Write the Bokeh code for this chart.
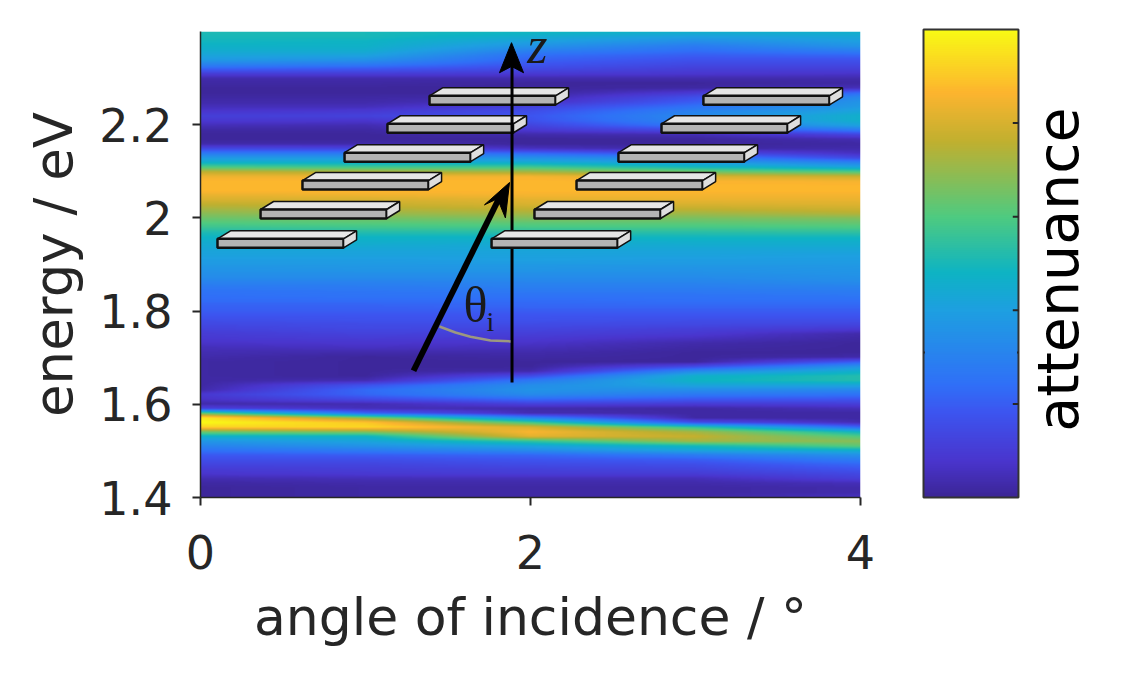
import numpy as np
from bokeh.core.properties import value
from bokeh.embed import file_html
from bokeh.layouts import column, row
from bokeh.models import FixedTicker, LinearColorMapper, Range1d
from bokeh.plotting import figure
from bokeh.resources import INLINE

# energy rows, 1.40 to 2.40 eV in steps of 0.01 per angle
energy = [round(1.40 + i * 0.01, 2) for i in range(101)]
angles = [0, 1, 2, 3, 4]

att_0 = [.01, .01, .01, .02, .04, .08, .10, .13, .16, .19,
         .25, .31, .37, .46, .65, .92, 1.0, .96, .62, .12,
         .03, .07, .09, .03, .02, .02, .02, .02, .02, .02,
         .03, .04, .05, .07, .09, .10, .12, .14, .16, .18,
         .20, .21, .23, .24, .25, .27, .30, .33, .35, .36,
         .38, .39, .41, .42, .44, .45, .48, .51, .56, .60,
         .64, .68, .72, .76, .80, .83, .87, .87, .87, .84,
         .76, .60, .47, .38, .27, .14, .03, .01, .01, .02,
         .05, .09, .11, .08, .05, .03, .02, .01, .01, .02,
         .03, .10, .20, .30, .38, .42, .45, .47, .49, .50, .51]
att_1 = [.02, .02, .02, .03, .05, .09, .11, .13, .16, .20,
         .28, .36, .42, .47, .68, .93, .90, .68, .22, .05,
         .04, .15, .22, .23, .17, .04, .01, .01, .01, .01,
         .01, .03, .06, .08, .10, .12, .14, .15, .17, .18,
         .20, .21, .23, .25, .26, .28, .30, .33, .35, .37,
         .38, .39, .41, .42, .44, .46, .48, .52, .57, .61,
         .65, .70, .74, .77, .80, .84, .87, .87, .87, .84,
         .74, .58, .46, .38, .27, .13, .03, .01, .01, .02,
         .04, .08, .12, .09, .05, .03, .02, .01, .01, .02,
         .03, .10, .18, .27, .35, .41, .45, .47, .48, .50, .50]
att_2 = [.02, .02, .02, .03, .05, .10, .12, .15, .18, .22,
         .33, .42, .55, .82, .86, .80, .58, .30, .04, .03,
         .12, .23, .33, .36, .34, .27, .15, .03, .01, .01,
         .02, .03, .05, .07, .09, .11, .13, .15, .17, .18,
         .20, .22, .23, .25, .27, .29, .31, .33, .35, .37,
         .38, .40, .41, .42, .43, .45, .48, .53, .58, .62,
         .67, .72, .76, .80, .82, .85, .87, .87, .87, .85,
         .72, .58, .45, .35, .22, .06, .01, .01, .03, .09,
         .13, .17, .18, .16, .12, .06, .03, .01, .01, .01,
         .03, .09, .14, .18, .21, .24, .30, .36, .41, .45, .49]
att_3 = [.02, .02, .02, .03, .05, .10, .13, .16, .20, .28,
         .42, .50, .72, .77, .72, .55, .16, .02, .02, .02,
         .10, .19, .27, .34, .42, .48, .46, .33, .15, .01,
         .01, .01, .02, .03, .06, .09, .11, .14, .16, .18,
         .20, .22, .24, .25, .27, .29, .31, .33, .35, .36,
         .38, .39, .41, .42, .44, .46, .49, .53, .58, .62,
         .66, .71, .76, .80, .83, .85, .87, .87, .86, .80,
         .65, .50, .40, .30, .15, .02, .01, .01, .04, .15,
         .27, .32, .33, .30, .25, .20, .16, .09, .02, .01,
         .03, .08, .11, .14, .17, .20, .24, .28, .34, .40, .46]
att_4 = [.06, .03, .03, .05, .11, .14, .18, .22, .28, .35,
         .46, .62, .68, .60, .48, .22, .04, .02, .02, .05,
         .11, .18, .25, .32, .42, .52, .52, .46, .36, .20,
         .03, .01, .01, .01, .02, .03, .09, .13, .16, .18,
         .20, .22, .24, .26, .28, .30, .33, .35, .36, .37,
         .38, .39, .40, .42, .44, .46, .49, .54, .59, .63,
         .67, .74, .78, .81, .83, .85, .87, .87, .85, .78,
         .60, .42, .30, .14, .06, .03, .02, .04, .13, .28,
         .41, .46, .46, .42, .38, .36, .32, .22, .05, .02,
         .03, .07, .11, .14, .17, .22, .29, .36, .40, .43, .46]

x_ticks = [0, 2, 4]
y_ticks = [1.4, 1.6, 1.8, 2.0, 2.2]
bar_ticks = [0.2, 0.4, 0.6, 0.8]
bar_mark = 0.31

# sample sketch on top of the map, in axis units
bar_left_x = [0.103, 0.364, 0.618, 0.873, 1.133, 1.388]
bar_right_x = [1.764, 2.024, 2.279, 2.533, 2.794, 3.048]
bar_y = [1.955, 2.018, 2.080, 2.140, 2.202, 2.262]

# parula-like colours
stops = [0.0, 0.075, 0.18, 0.24, 0.40, 0.48, 0.60, 0.76, 0.865, 1.0]
stop_rgb = [(60, 38, 150), (74, 53, 205), (61, 85, 240), (48, 112, 248), (30, 160, 225),
            (14, 180, 196), (79, 203, 128), (192, 176, 48), (253, 181, 47), (249, 251, 21)]
rgb = np.array(stop_rgb, dtype=float)
grid = np.linspace(0, 1, 256)
palette = ["#%02x%02x%02x" % tuple(int(np.interp(g, stops, rgb[:, k])) for k in range(3)) for g in grid]
mapper = LinearColorMapper(palette=palette, low=0, high=1)

text_col = "#262626"
font = "DejaVu Sans"

p = figure(width=883, height=681, output_backend="svg", toolbar_location=None,
           x_range=Range1d(0, 4), y_range=Range1d(1.4, 2.4),
           min_border_left=200, min_border_right=23, min_border_top=31, min_border_bottom=184,
           x_axis_label="angle of incidence / °", y_axis_label="energy / eV")
p.grid.visible = False
p.outline_line_color = None

# the original map is drawn with interpolated shading, so shade between the read values
att = np.array([att_0, att_1, att_2, att_3, att_4]).T
shade_x = np.linspace(0, 4, 331)
shade_y = np.linspace(1.4, 2.4, 467)
shaded = np.array([np.interp(shade_x, angles, r) for r in att])
shaded = np.array([np.interp(shade_y, energy, shaded[:, k]) for k in range(len(shade_x))]).T
p.image(image=[shaded], x=0, y=1.4, dw=4, dh=1, color_mapper=mapper)

p.xaxis.ticker = FixedTicker(ticks=x_ticks)
p.yaxis.ticker = FixedTicker(ticks=y_ticks)
p.yaxis.major_label_overrides = {2: "2"}
for ax in [p.xaxis[0], p.yaxis[0]]:
    ax.axis_line_color = text_col
    ax.axis_line_width = 1.5
    ax.major_tick_line_color = text_col
    ax.major_tick_line_width = 2
    ax.major_tick_in = 0
    ax.major_tick_out = 8
    ax.minor_tick_line_color = None
    ax.major_label_text_font = font
    ax.major_label_text_font_size = "46px"
    ax.major_label_text_color = text_col
    ax.axis_label_text_font = font
    ax.axis_label_text_font_size = "52px"
    ax.axis_label_text_font_style = "normal"
    ax.axis_label_text_color = text_col
p.yaxis.axis_label_text_font_size = "53px"
p.xaxis.major_label_standoff = 29
p.xaxis.axis_label_standoff = 15
p.yaxis.major_label_standoff = 20
p.yaxis.axis_label_standoff = 12


def draw_bars(xs, ys):
    w, dx, h, dy = 0.764, 0.079, 0.0193, 0.0172
    top_x = [[x, x + dx, x + w + dx, x + w] for x in xs]
    top_y = [[y, y + dy, y + dy, y] for y in ys]
    front_x = [[x, x + w, x + w, x] for x in xs]
    front_y = [[y, y, y - h, y - h] for y in ys]
    side_x = [[x + w, x + w + dx, x + w + dx, x + w] for x in xs]
    side_y = [[y, y + dy, y + dy - h, y - h] for y in ys]
    p.patches(top_x, top_y, fill_color="#e6e6e6", line_color="#111111", line_width=1.5)
    p.patches(front_x, front_y, fill_color="#b4b4b4", line_color="#111111", line_width=2.5)
    p.patches(side_x, side_y, fill_color="#dedede", line_color="#111111", line_width=1.5)


draw_bars(bar_left_x, bar_y)
draw_bars(bar_right_x[1:], bar_y[1:])

# z axis, runs over the upper bars and behind the lowest right one
p.line([1.888, 1.888], [1.647, 2.33], line_color="black", line_width=3)
p.patch([1.885, 1.958, 1.885, 1.812], [2.376, 2.3115, 2.325, 2.3115], fill_color="black", line_color="black")
draw_bars(bar_right_x[:1], bar_y[:1])

# incoming beam
p.line([1.291, 1.818], [1.672, 2.048], line_color="black", line_width=6)
p.patch([1.873, 1.721, 1.80, 1.848], [2.076, 2.028, 2.041, 2.0], fill_color="black", line_color="black")

# angle arc and labels
p.line([1.448, 1.545, 1.636, 1.758, 1.879], [1.767, 1.754, 1.745, 1.737, 1.735], line_color="#9c9880", line_width=2.5)
serif = value("Liberation Serif")
p.text([1.594], [1.813], text=["θ"], text_font=serif, text_font_size="50px", text_color="#1a1a1a", text_baseline="alphabetic")
p.text([1.733], [1.778], text=["i"], text_font=serif, text_font_size="28px", text_color="#1a1a1a", text_baseline="alphabetic")
p.text([1.98], [2.37], text=["z"], text_font=serif, text_font_style="italic", text_font_size="52px", text_color="#1a1a1a", text_baseline="alphabetic")

# colour bar, its frame runs on to the right to hold the rotated label
c = figure(width=235, height=681, output_backend="svg", toolbar_location=None,
           x_range=Range1d(-0.0316, 2.053), y_range=Range1d(-0.0064, 1.0064),
           x_axis_location=None, y_axis_location=None,
           min_border_left=37, min_border_right=0, min_border_top=26, min_border_bottom=181)
c.grid.visible = False
c.outline_line_color = None
c.image(image=[grid.reshape(-1, 1)], x=0, y=0, dw=1, dh=1, color_mapper=mapper)
c.quad(left=[0], right=[1], bottom=[0], top=[1], fill_color=None, line_color="#333333", line_width=2)
c.segment([0.94] * len(bar_ticks), bar_ticks, [1] * len(bar_ticks), bar_ticks, line_color=text_col, line_width=2)
c.segment([0, 0.985], [bar_mark, bar_mark], [0.015, 1], [bar_mark, bar_mark], line_color=text_col, line_width=2)
c.text([1.413], [0.487], text=["attenuance"], angle=90, angle_units="deg",
       text_font=value(font), text_font_size="57px", text_color="black",
       text_align="center", text_baseline="alphabetic")

# wrapped in a column so the row does not line its frame up with the map's
layout = row(p, column(c), spacing=0)
open("out.html", "w").write(file_html(layout, INLINE))
